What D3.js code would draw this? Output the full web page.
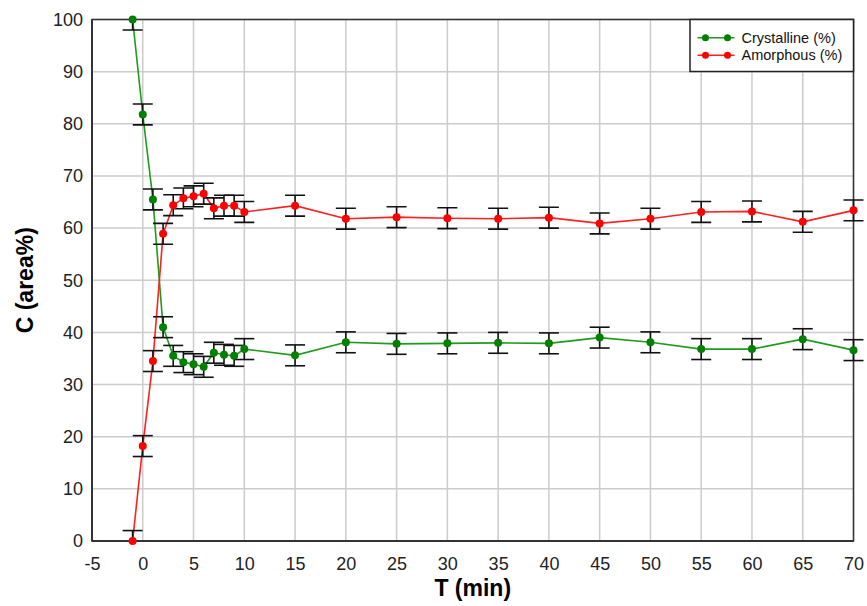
<!DOCTYPE html>
<html>
<head>
<meta charset="utf-8">
<script src="https://cdn.jsdelivr.net/npm/d3@7/dist/d3.min.js"></script>
<style>
  html, body { margin: 0; padding: 0; background: #fff; }
  svg { display: block; font-family: "Liberation Sans", Arial, Helvetica, sans-serif; }
</style>
</head>
<body>
<svg id="chart" width="867" height="606"></svg>
<script>
// Time points (min)
const times = [-1, 0, 1, 2, 3, 4, 5, 6, 7, 8, 9, 10, 15, 20, 25, 30, 35, 40, 45, 50, 55, 60, 65, 70];
// Crystalline fraction (area %)
const crystalline = [100, 81.8, 65.5, 41.0, 35.5, 34.3, 33.9, 33.4, 36.1, 35.7, 35.5, 36.8,
  35.6, 38.1, 37.8, 37.9, 38.0, 37.9, 39.0, 38.1, 36.8, 36.8, 38.7, 36.6];
// Amorphous fraction (area %)
const amorphous = [0, 18.2, 34.5, 58.9, 64.4, 65.7, 66.1, 66.6, 63.8, 64.3, 64.3, 63.1,
  64.3, 61.8, 62.1, 61.9, 61.8, 62.0, 60.9, 61.8, 63.1, 63.2, 61.2, 63.4];
// Standard deviation of each measurement (area %)
const errorBar = 2;

const xTicks = d3.range(-5, 71, 5);
const yTicks = d3.range(0, 101, 10);

const seriesList = [
  { name: "Crystalline (%)", values: crystalline, line: "#1f9a1f", dot: "#008000" },
  { name: "Amorphous (%)", values: amorphous, line: "#ff2020", dot: "#ff0000" }
];

const W = 867, H = 606;
const margin = { left: 92, right: 13.5, top: 19.5, bottom: 65 };
const svg = d3.select("#chart");

const x = d3.scaleLinear().domain([-5, 70]).range([margin.left, W - margin.right]);
const y = d3.scaleLinear().domain([0, 100]).range([H - margin.bottom, margin.top]);

// grid
const grid = svg.append("g").attr("stroke", "#cccccc").attr("stroke-width", 1.5);
grid.selectAll("line.vx").data(xTicks).join("line")
  .attr("x1", d => x(d)).attr("x2", d => x(d))
  .attr("y1", y(0)).attr("y2", y(100));
grid.selectAll("line.hy").data(yTicks).join("line")
  .attr("x1", x(-5)).attr("x2", x(70))
  .attr("y1", d => y(d)).attr("y2", d => y(d));

// frame
svg.append("rect")
  .attr("x", x(-5)).attr("y", y(100))
  .attr("width", x(70) - x(-5)).attr("height", y(0) - y(100))
  .attr("fill", "none").attr("stroke", "#333").attr("stroke-width", 1.5);
svg.append("line").attr("x1", x(-5)).attr("x2", x(-5)).attr("y1", y(100)).attr("y2", y(0))
  .attr("stroke", "#333").attr("stroke-width", 2);
svg.append("line").attr("x1", x(-5)).attr("x2", x(70)).attr("y1", y(0)).attr("y2", y(0))
  .attr("stroke", "#333").attr("stroke-width", 2);

// axes (labels only)
const plain = d => String(d);
const xAxis = svg.append("g")
  .attr("transform", `translate(0,${y(0)})`)
  .call(d3.axisBottom(x).tickValues(xTicks).tickSize(0).tickPadding(16).tickFormat(plain));
const yAxis = svg.append("g")
  .attr("transform", `translate(${x(-5) - 9},0)`)
  .call(d3.axisLeft(y).tickValues(yTicks).tickSize(0).tickPadding(0).tickFormat(plain));
[xAxis, yAxis].forEach(g => {
  g.select(".domain").remove();
  g.selectAll("text").attr("font-size", 18).attr("fill", "#222")
    .attr("font-family", "\"Liberation Sans\", Arial, sans-serif");
});

// axis titles
svg.append("text")
  .attr("x", (x(-5) + x(70)) / 2).attr("y", 596)
  .attr("text-anchor", "middle").attr("font-size", 23).attr("font-weight", "bold")
  .text("T (min)");
svg.append("text")
  .attr("transform", `translate(33,${(y(0) + y(100)) / 2}) rotate(-90)`)
  .attr("text-anchor", "middle").attr("font-size", 23).attr("font-weight", "bold")
  .text("C (area%)");

// clip error bars to the vertical extent of the plot
svg.append("clipPath").attr("id", "plotClip").append("rect")
  .attr("x", 0).attr("y", y(100) - 1).attr("width", W).attr("height", y(0) - y(100) + 2);

const line = d3.line().x(d => x(d.t)).y(d => y(d.v));

seriesList.forEach(s => {
  const pts = times.map((t, i) => ({ t, v: s.values[i] }));
  svg.append("path").datum(pts)
    .attr("d", line).attr("fill", "none")
    .attr("stroke", s.line).attr("stroke-width", 1.6);
});

const capHalf = 10;
seriesList.forEach(s => {
  const pts = times.map((t, i) => ({ t, v: s.values[i] }));
  const eb = svg.append("g").attr("clip-path", "url(#plotClip)")
    .attr("stroke", "#111").attr("stroke-width", 1.6);
  eb.selectAll("line.v").data(pts).join("line")
    .attr("x1", d => x(d.t)).attr("x2", d => x(d.t))
    .attr("y1", d => y(d.v - errorBar)).attr("y2", d => y(d.v + errorBar));
  eb.selectAll("line.lo").data(pts).join("line")
    .attr("x1", d => x(d.t) - capHalf).attr("x2", d => x(d.t) + capHalf)
    .attr("y1", d => y(d.v - errorBar)).attr("y2", d => y(d.v - errorBar));
  eb.selectAll("line.hi").data(pts).join("line")
    .attr("x1", d => x(d.t) - capHalf).attr("x2", d => x(d.t) + capHalf)
    .attr("y1", d => y(d.v + errorBar)).attr("y2", d => y(d.v + errorBar));
});

seriesList.forEach(s => {
  const pts = times.map((t, i) => ({ t, v: s.values[i] }));
  svg.append("g").selectAll("circle").data(pts).join("circle")
    .attr("cx", d => x(d.t)).attr("cy", d => y(d.v)).attr("r", 4)
    .attr("fill", s.dot);
});

// legend
const lg = svg.append("g");
lg.append("rect")
  .attr("x", 690).attr("y", y(100))
  .attr("width", x(70) - 690).attr("height", 52)
  .attr("fill", "#fff").attr("stroke", "#222").attr("stroke-width", 1.5);
seriesList.forEach((s, i) => {
  const cy = 37.7 + i * 17.5;
  lg.append("line").attr("x1", 697.5).attr("x2", 734.5).attr("y1", cy).attr("y2", cy)
    .attr("stroke", s.line).attr("stroke-width", 1.6);
  [705.5, 727.5].forEach(cx => lg.append("circle").attr("cx", cx).attr("cy", cy).attr("r", 3.5).attr("fill", s.dot));
  lg.append("text").attr("x", 741.5).attr("y", cy).attr("dy", "0.36em")
    .attr("font-size", 14.5).attr("fill", "#111").text(s.name);
});
</script>
</body>
</html>
